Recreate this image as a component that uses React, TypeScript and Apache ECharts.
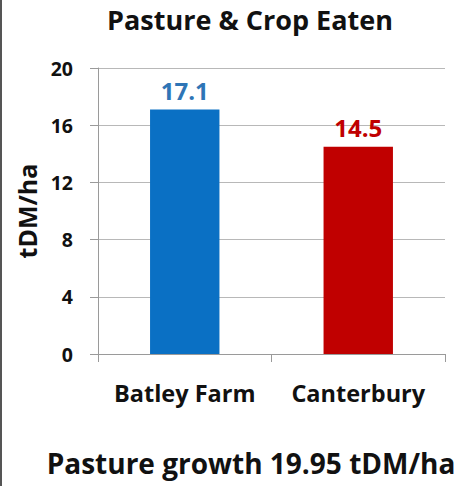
import React, { useEffect, useRef } from "react";
import * as echarts from "echarts";

const categories = ["Batley Farm", "Canterbury"];
const eatenValues = [17.1, 14.5];
const barColors = ["#0A70C4", "#C00000"];
const labelColors = ["#2E75B6", "#C00000"];
const yTicks = { min: 0, max: 20, interval: 4 };
const titleText = "Pasture & Crop Eaten";
const footerText = "Pasture growth 19.95 tDM/ha";
const yAxisName = "tDM/ha";

const FONT = "'Open Sans', sans-serif";

export default function App() {
  const ref = useRef<HTMLDivElement>(null);
  useEffect(() => {
    document.body.style.margin = "0";
    const chart = echarts.init(ref.current!, null, { renderer: "svg" });
    chart.setOption({
      animation: false,
      backgroundColor: "#ffffff",
      grid: { left: 98, right: 28, top: 68, bottom: 132 },
      xAxis: {
        type: "category",
        data: categories,
        axisLine: { lineStyle: { color: "#9a9a9a", width: 1 } },
        axisTick: { show: true, length: 8, lineStyle: { color: "#9a9a9a" } },
        axisLabel: {
          interval: 0,
          hideOverlap: false,
          margin: 27,
          fontFamily: FONT,
          fontWeight: "bold",
          fontSize: 23.5,
          color: "#111",
        },
      },
      yAxis: {
        type: "value",
        min: yTicks.min,
        max: yTicks.max,
        interval: yTicks.interval,
        name: yAxisName,
        nameLocation: "middle",
        nameGap: 58,
        nameRotate: 90,
        nameTextStyle: { fontFamily: FONT, fontWeight: "bold", fontSize: 25, color: "#111" },
        axisLine: { show: true, lineStyle: { color: "#9a9a9a" } },
        axisTick: { show: true, length: 8, lineStyle: { color: "#9a9a9a" } },
        splitLine: { lineStyle: { color: "#b8b8b8", width: 1 } },
        axisLabel: {
          margin: 25,
          fontFamily: FONT,
          fontWeight: "bold",
          fontSize: 19.5,
          color: "#111",
        },
      },
      series: [
        {
          type: "bar",
          barWidth: "40%",
          data: eatenValues.map((v, i) => ({
            value: v,
            itemStyle: { color: barColors[i] },
            label: { color: labelColors[i] },
          })),
          label: {
            show: true,
            position: "top",
            distance: 7,
            fontFamily: FONT,
            fontWeight: "bold",
            fontSize: 24,
          },
        },
      ],
      graphic: [
        {
          type: "rect",
          shape: { x: 0, y: 0, width: 2, height: 486 },
          style: { fill: "#555" },
        },
        {
          type: "text",
          x: 250,
          y: 19,
          style: {
            text: titleText,
            textAlign: "center",
            textVerticalAlign: "middle",
            fontFamily: FONT,
            fontWeight: "bold",
            fontSize: 27,
            fill: "#111",
          },
        },
        {
          type: "text",
          x: 251,
          y: 463,
          style: {
            text: footerText,
            textAlign: "center",
            textVerticalAlign: "middle",
            fontFamily: FONT,
            fontWeight: "bold",
            fontSize: 28,
            fill: "#111",
          },
        },
      ],
    });
    return () => chart.dispose();
  }, []);
  return <div ref={ref} style={{ width: 473, height: 486 }} />;
}
